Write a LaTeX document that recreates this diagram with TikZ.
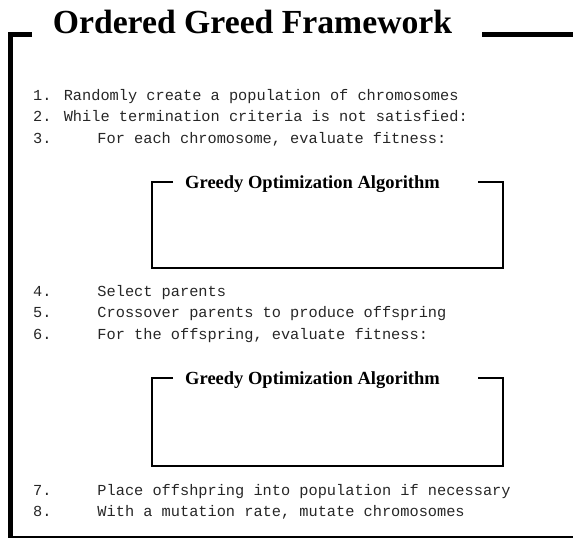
\documentclass[tikz,border=0pt]{standalone}
\usepackage{fontspec}
\setmainfont{Liberation Serif}
\newfontfamily\codefont{Liberation Mono}
\begin{document}
\begin{tikzpicture}[x=1pt,y=-1pt,
  frame/.style={line width=5pt,line join=miter,line cap=butt},
  subframe/.style={line width=2pt,line join=miter,line cap=butt},
  maintitle/.style={anchor=base,inner sep=0pt,font=\fontsize{33.7}{40}\selectfont\bfseries},
  subtitle/.style={anchor=base,inner sep=0pt,font=\fontsize{18.5}{22}\selectfont\bfseries},
  codeline/.style={anchor=base west,inner sep=0pt,text=black!85,font=\fontsize{15.3}{18}\codefont}]
\useasboundingbox (0,0) rectangle (573,538);

% outer frame with its title
\draw[frame] (32,34.5) -- (10,34.5) -- (10,540);
\draw[frame] (482,34.5) -- (575,34.5);
\draw[line width=1.6pt] (10,536.8) -- (575,536.8);
\node[maintitle] (title) at (252.5,34) {Ordered Greed Framework};

% algorithm steps
\node[codeline] (s1) at (33,100) {1. Randomly create a population of chromosomes};
\node[codeline] (s2) at (33,121.5) {2. While termination criteria is not satisfied:};
\node[codeline] (s3) at (33,143) {3.\phantom{00000}For each chromosome, evaluate fitness:};
\node[codeline] (s4) at (33,296) {4.\phantom{00000}Select parents};
\node[codeline] (s5) at (33,317.5) {5.\phantom{00000}Crossover parents to produce offspring};
\node[codeline] (s6) at (33,339) {6.\phantom{00000}For the offspring, evaluate fitness:};
\node[codeline] (s7) at (33,495) {7.\phantom{00000}Place offshpring into population if necessary};
\node[codeline] (s8) at (33,516) {8.\phantom{00000}With a mutation rate, mutate chromosomes};

% first nested optimizer box
\draw[subframe] (173,182) -- (152,182) -- (152,268) -- (503,268) -- (503,182) -- (478,182);
\node[subtitle] (g1) at (312.5,188) {Greedy Optimization Algorithm};

% second nested optimizer box
\draw[subframe] (173,378) -- (152,378) -- (152,466) -- (503,466) -- (503,378) -- (478,378);
\node[subtitle] (g2) at (312.5,384) {Greedy Optimization Algorithm};
\end{tikzpicture}
\end{document}
